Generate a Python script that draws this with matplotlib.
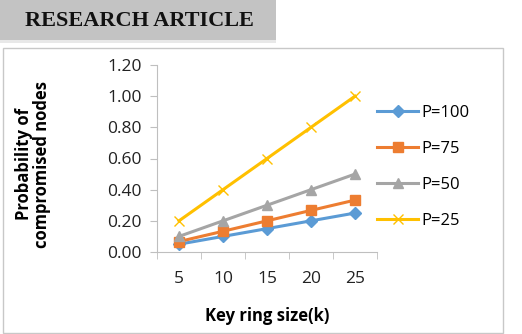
import matplotlib.pyplot as plt
from matplotlib.patches import Rectangle

# data
key_ring = ['5', '10', '15', '20', '25']
p100 = [0.05, 0.10, 0.15, 0.20, 0.25]
p75 = [0.067, 0.133, 0.20, 0.267, 0.333]
p50 = [0.10, 0.20, 0.30, 0.40, 0.50]
p25 = [0.20, 0.40, 0.60, 0.80, 1.00]
y_ticks = [0.0, 0.2, 0.4, 0.6, 0.8, 1.0, 1.2]

plt.rcParams['font.family'] = ['Open Sans', 'DejaVu Sans']

W, H = 522, 334
fig = plt.figure(figsize=(W / 100, H / 100), dpi=100)

# header band
fig.patches.append(Rectangle((0, 1 - 40 / H), 276 / W, 40 / H, transform=fig.transFigure,
                             facecolor='#c3c3c3', edgecolor='none', zorder=0))
fig.patches.append(Rectangle((0, 1 - 43 / H), 276 / W, 3 / H, transform=fig.transFigure,
                             facecolor='#e8e8e8', edgecolor='none', zorder=0))
fig.text(25 / W, 1 - 21 / H, 'RESEARCH ARTICLE', family='Liberation Serif', weight='bold',
         fontsize=16, va='center', ha='left', color='#111111')

# chart border
fig.patches.append(Rectangle((3 / W, 1 / H), 500 / W, (333 - 48) / H, transform=fig.transFigure,
                             facecolor='none', edgecolor='#c8c8c8', lw=1.0, zorder=0))

ax = fig.add_axes([157 / W, 82 / H, 220 / W, 187 / H])
x = list(range(1, len(key_ring) + 1))
ax.plot(x, p100, color='#5B9BD5', lw=2.2, marker='D', ms=6.5, label='P=100')
ax.plot(x, p75, color='#ED7D31', lw=2.2, marker='s', ms=7.5, label='P=75')
ax.plot(x, p50, color='#A5A5A5', lw=2.2, marker='^', ms=7.5, label='P=50')
ax.plot(x, p25, color='#FFC000', lw=2.2, marker='x', ms=7.5, mew=1.0, label='P=25')

ax.set_xlim(0.5, len(key_ring) + 0.5)
ax.set_ylim(0, 1.2)
ax.set_yticks(y_ticks)
ax.set_yticklabels([f'{v:.2f}' for v in y_ticks])
ax.set_xticks(x)
ax.set_xticklabels(key_ring)
ax.set_xticks([i + 0.5 for i in range(0, len(key_ring) + 1)], minor=True)
ax.tick_params(axis='x', which='major', length=0, pad=14, labelsize=12.5, colors='#222222')
ax.tick_params(axis='x', which='minor', length=5, color='#bfbfbf', direction='out')
ax.tick_params(axis='y', length=5, color='#bfbfbf', labelsize=12.5, labelcolor='#222222', pad=6)
for s in ['top', 'right']:
    ax.spines[s].set_visible(False)
for s in ['left', 'bottom']:
    ax.spines[s].set_color('#bfbfbf')

ax.set_xlabel('Key ring size(k)', fontsize=12, weight='bold', labelpad=14)
fig.text(33 / W, 1 - 164 / H, 'Probability of\ncompromised nodes', rotation=90,
         fontsize=12, weight='bold', ha='center', va='center', linespacing=1.05)

ax.legend(loc='upper left', bbox_to_anchor=(370 / W, 1 - 98 / H),
          bbox_transform=fig.transFigure, frameon=False, fontsize=12,
          handlelength=2.5, labelspacing=1.2, handletextpad=0.2, borderaxespad=0)

fig.savefig('out.png', dpi=100)
